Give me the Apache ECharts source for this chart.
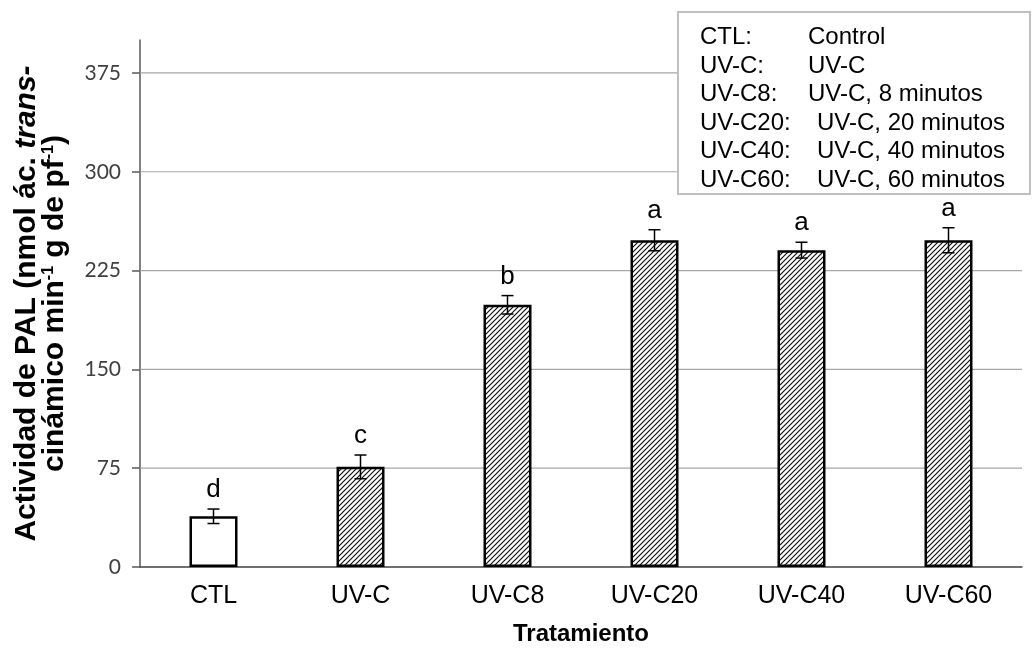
<!DOCTYPE html>
<html><head><meta charset="utf-8">
<script src="https://cdn.jsdelivr.net/npm/echarts@6/dist/echarts.min.js"></script>
<style>html,body{margin:0;padding:0;background:#fff}#c{width:1036px;height:651px}</style>
</head><body><div id="c"></div><script>
const categories = ['CTL','UV-C','UV-C8','UV-C20','UV-C40','UV-C60'];
const means = [38.5, 76, 199, 248, 240.5, 248];
const errors = [5.5, 9, 7, 8, 6, 9.5];
const letters = ['d','c','b','a','a','a'];
const yTicks = [0,75,150,225,300,375];
const yMax = 400;
const legendKeys = ['CTL:','UV-C:','UV-C8:','UV-C20:','UV-C40:','UV-C60:'];
const legendValues = ['Control','UV-C','UV-C, 8 minutos','UV-C, 20 minutos','UV-C, 40 minutos','UV-C, 60 minutos'];

function hatch(){
  const c=document.createElement('canvas'); c.width=5; c.height=5;
  const g=c.getContext('2d'); g.fillStyle='#fff'; g.fillRect(0,0,5,5);
  g.strokeStyle='#111'; g.lineWidth=1.2; g.beginPath();
  g.moveTo(-1,6); g.lineTo(6,-1);
  g.moveTo(-1,1); g.lineTo(1,-1);
  g.moveTo(4,6); g.lineTo(6,4);
  g.stroke(); return c;
}
const pat = {image: hatch(), repeat: 'repeat'};
const FONT = '"Liberation Sans", Arial, sans-serif';

const legendText = legendKeys.map((k,i)=> (i<3?'{k|':'{k2|') + k + '}{v|' + legendValues[i] + '}').join('\n');

const chart = echarts.init(document.getElementById('c'));
chart.setOption({
  animation:false,
  backgroundColor:'#fff',
  title:{
    text: legendText,
    left: 678, top: 12,
    padding:[11,25,0,22],
    borderColor:'#bfbfbf', borderWidth:2, backgroundColor:'#fff',
    textStyle:{
      fontFamily:FONT, fontSize:24, fontWeight:'normal', color:'#000', lineHeight:28.6,
      rich:{
        k:{fontFamily:FONT, fontSize:24, color:'#000', width:108, lineHeight:28.6},
        k2:{fontFamily:FONT, fontSize:24, color:'#000', width:117, lineHeight:28.6},
        v:{fontFamily:FONT, fontSize:24, color:'#000', lineHeight:28.6}
      }
    },
    z: 10
  },
  grid:{left:140, right:14, top:40, bottom:84, containLabel:false},
  xAxis:{
    type:'category', data:categories,
    axisLine:{lineStyle:{color:'#404040', width:1.5}},
    axisTick:{show:false},
    axisLabel:{fontFamily:FONT, fontSize:25, color:'#000', margin:17},
    name:'Tratamiento', nameLocation:'middle', nameGap:55,
    nameTextStyle:{fontFamily:FONT, fontSize:24, fontWeight:'bold', color:'#000'}
  },
  yAxis:{
    type:'value', min:0, max:yMax,
    axisLine:{show:true, lineStyle:{color:'#595959', width:1.5}},
    axisTick:{show:true, length:8, customValues:yTicks, lineStyle:{color:'#595959', width:1.5}},
    axisLabel:{customValues:yTicks, fontFamily:'Lato, "Open Sans", sans-serif', fontSize:21, color:'#404040', margin:19},
    splitLine:{show:false},
    name:'{b|Actividad de PAL (nmol ác. }{bi|trans-}\n{b|cinámico min}{sup|-1}{b| g de pf}{sup|-1}{b|)}',
    nameLocation:'middle', nameGap:71, nameRotate:90,
    nameTextStyle:{
      fontFamily:FONT, fontSize:30, fontWeight:'bold', color:'#000', lineHeight:28, align:'center',
      rich:{
        b:{fontFamily:FONT, fontSize:30, fontWeight:'bold', color:'#000', lineHeight:28},
        bi:{fontFamily:FONT, fontSize:30, fontWeight:'bold', fontStyle:'italic', color:'#000', lineHeight:28},
        sup:{fontFamily:FONT, fontSize:16, fontWeight:'bold', color:'#000', lineHeight:28, verticalAlign:'top', padding:[0,0,8,0]}
      }
    }
  },
  series:[
    {
      type:'custom', name:'grid', z:1, silent:true, clip:false,
      data: yTicks.filter(v=>v>0).map(v=>[0,v]),
      renderItem:function(params, api){
        const cs = params.coordSys;
        const p = api.coord([0, api.value(1)]);
        return {type:'line', shape:{x1:cs.x, y1:p[1], x2:cs.x+cs.width, y2:p[1]},
          style:{stroke:'#a6a6a6', lineWidth:1.2}};
      }
    },
    {
      type:'bar', name:'PAL', z:2, barWidth:48,
      data: means.map((v,i)=>({value:v, itemStyle:{color: i===0 ? '#fff' : pat, borderColor:'#000', borderWidth:2.5}}))
    },
    {
      type:'custom', name:'err', z:3, silent:true,
      data: categories.map((c,i)=>[i, means[i], errors[i]]),
      renderItem:function(params, api){
        const i = api.value(0), m = api.value(1), e = api.value(2);
        const t = api.coord([i, m+e]), b = api.coord([i, m-e]);
        const hw = 6;
        const st = {stroke:'#000', lineWidth:1.5};
        return {type:'group', children:[
          {type:'line', shape:{x1:t[0],y1:t[1],x2:b[0],y2:b[1]}, style:st},
          {type:'line', shape:{x1:t[0]-hw,y1:t[1],x2:t[0]+hw,y2:t[1]}, style:st},
          {type:'line', shape:{x1:b[0]-hw,y1:b[1],x2:b[0]+hw,y2:b[1]}, style:st},
          {type:'text', x:t[0], y:t[1]-6, style:{text:letters[params.dataIndex], fill:'#000', font:'26px '+FONT, textAlign:'center', textVerticalAlign:'bottom'}}
        ]};
      }
    }
  ]
});
</script></body></html>
